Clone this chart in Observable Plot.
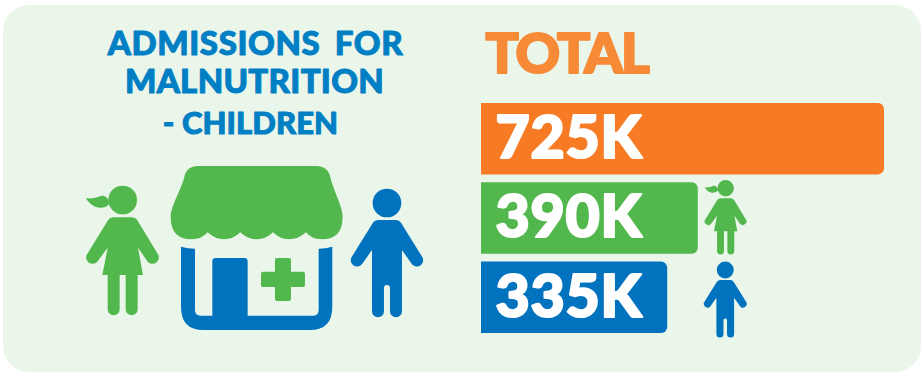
<!DOCTYPE html>
<html>
<head>
<meta charset="utf-8">
<script src="https://cdn.jsdelivr.net/npm/d3@7"></script>
<script src="https://cdn.jsdelivr.net/npm/@observablehq/plot@0.6"></script>
<style>
  html, body { margin: 0; background: #fff; }
  #panel { position: absolute; left: 3px; top: 5px; width: 918px; height: 367px; background: #ebf6eb; border-radius: 26px; }
  #chart { position: absolute; left: 0; top: 0; }
  #chart svg { display: block; background: transparent; }
  .total-heading text { letter-spacing: -2px; }
  .bar-label text { letter-spacing: 0.8px; }
  .heading-0 text { letter-spacing: 0.6px; word-spacing: 6px; }
  .heading-1 text { letter-spacing: 0.3px; }
  .heading-2 text { letter-spacing: 0.1px; }
</style>
</head>
<body>
<div id="panel"></div>
<div id="chart"></div>
<script>
// Admissions by group, in thousands
const groups = ["Total", "Girls", "Boys"];
const admissions = [725, 390, 335];
const barColors = ["#f77b24", "#52b84e", "#0072be"];

const headingLines = ["ADMISSIONS FOR", "MALNUTRITION", "- CHILDREN"];
const totalHeading = "TOTAL";

const rows = groups.map((group, i) => ({group, value: admissions[i], color: barColors[i]}));

const GREEN = "#52b84e", BLUE = "#0072be";
const FONT = "Lato, sans-serif";

// Pictogram outlines, in a shared drawing space
const ponytail = "M148,158 C146,144 134,134 122,138 C108,143 92,148 78,144 C86,160 104,174 124,173 C136,172 146,168 148,158 Z";
const girlBody = "M162,202 L214,202 Q226,202 233,212 L292,310 A18,18 0 0 1 263,335 L234,293 L249,375 L233,375 L233,478 A18,18 0 0 1 197,478 L197,375 L179,375 L179,478 A18,18 0 0 1 143,478 L143,375 L127,375 L143,293 L112,335 A18,18 0 0 1 83,310 L143,212 Q150,202 162,202 Z";
const boyBody = "M956,210 L1006,210 Q1018,210 1024,220 L1085,318 A18,18 0 0 1 1056,343 L1026,300 L1026,484 A18,18 0 0 1 990,484 L990,414 A6,6 0 0 0 972,414 L972,484 A18,18 0 0 1 936,484 L936,300 L906,343 A18,18 0 0 1 877,318 L938,220 Q944,210 956,210 Z";
const awning = "M372,85 Q378,48 415,48 L768,48 Q805,48 812,85 C818,115 848,170 848,200 Q848,268 785,268 Q755,268 738,247 Q715,268 688,268 Q660,268 639,247 Q618,268 590,268 Q562,268 541,247 Q520,268 492,268 Q465,268 443,247 Q425,268 395,268 Q332,268 332,200 C332,170 365,115 372,85 Z";
const shopBase = "M363,290 Q385,296 405,296 L405,480 Q405,497 422,497 L457,497 L457,334 Q457,324 467,324 L553,324 Q563,324 563,334 L563,497 L760,497 Q776,497 776,480 L776,296 Q797,296 817,290 L817,470 Q817,540 750,540 L430,540 Q363,540 363,470 Z";
const cross = "M651,324 L687,324 Q693,324 693,330 L693,365 L729,365 Q735,365 735,371 L735,405 Q735,411 729,411 L693,411 L693,447 Q693,453 687,453 L651,453 Q645,453 645,447 L645,411 L609,411 Q603,411 603,405 L603,371 Q603,365 609,365 L645,365 L645,330 Q645,324 651,324 Z";

function pictogram(svgNs, parts, transform) {
  const g = document.createElementNS(svgNs, "g");
  g.setAttribute("transform", transform);
  for (const part of parts) {
    const el = document.createElementNS(svgNs, part.d ? "path" : "circle");
    for (const [k, v] of Object.entries(part)) el.setAttribute(k, v);
    g.appendChild(el);
  }
  return g;
}

const girl = [
  {cx: 188, cy: 150, r: 43, fill: GREEN},
  {d: ponytail, fill: GREEN},
  {d: girlBody, fill: GREEN}
];
const boy = [
  {cx: 981, cy: 159, r: 43, fill: BLUE},
  {d: boyBody, fill: BLUE}
];
const shop = [
  {d: awning, fill: GREEN},
  {d: shopBase, fill: BLUE},
  {d: cross, fill: GREEN}
];

// Draws the clinic and the figures on top of the frame
function icons() {
  const ns = "http://www.w3.org/2000/svg";
  const g = document.createElementNS(ns, "g");
  const big = "translate(60,150) scale(0.3333)";
  g.appendChild(pictogram(ns, girl, big));
  g.appendChild(pictogram(ns, shop, big));
  g.appendChild(pictogram(ns, boy, big));
  g.appendChild(pictogram(ns, girl, "translate(689.7,159.6) scale(0.1913)"));
  g.appendChild(pictogram(ns, boy, "translate(532,238.7) scale(0.197)"));
  return g;
}

const plot = Plot.plot({
  width: 921,
  height: 372,
  margin: 0,
  x: {domain: [0, 725], range: [481, 884], axis: null},
  y: {domain: groups, range: [103, 333], paddingInner: 0.1, paddingOuter: 0, round: false, axis: null},
  marks: [
    Plot.barX(rows, {x: "value", y: "group", fill: "color", rx2: 6}),
    Plot.text(rows, {
      x: 0, y: "group", text: d => `${d.value}K`, textAnchor: "start", className: "bar-label",
      dx: 14, fill: "#fff", stroke: "#fff", strokeWidth: 2.2, fontSize: 59, fontWeight: 900, fontFamily: FONT
    }),
    ...headingLines.map((line, i) => Plot.text([line], {
      frameAnchor: "top-left", textAnchor: "middle", lineAnchor: "middle", className: `heading-${i}`,
      dx: [255, 254, 250][i], dy: [44, 82, 124][i], stroke: "#007fc4", strokeWidth: 1,
      fill: "#007fc4", fontSize: [33, 33, 31][i], fontWeight: 900, fontFamily: FONT
    })),
    Plot.text([totalHeading], {
      frameAnchor: "top-left", textAnchor: "start", lineAnchor: "middle", className: "total-heading",
      dx: 485, dy: 55, fill: "#f68a36", stroke: "#f68a36", strokeWidth: 2.2, fontSize: 55, fontWeight: 900, fontFamily: FONT
    }),
    icons
  ]
});
document.getElementById("chart").appendChild(plot);
</script>
</body>
</html>
